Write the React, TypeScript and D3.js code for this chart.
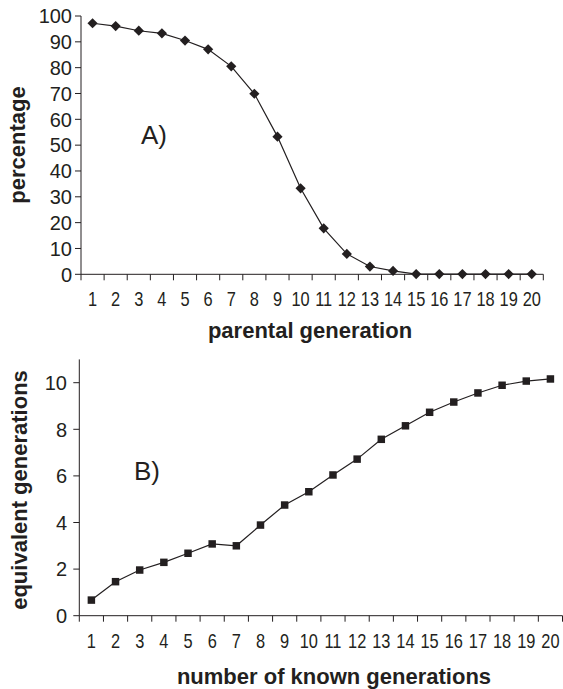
import React from "react";
import * as d3 from "d3";

const generationsA = d3.range(1, 21);
const percentageA = [97.2, 96.1, 94.3, 93.3, 90.5, 87.1, 80.5, 69.9, 53.3, 33.3, 17.8, 7.9, 3.0, 1.3, 0.1, 0.1, 0.1, 0.1, 0.1, 0.1];
const yTicksA = [0, 10, 20, 30, 40, 50, 60, 70, 80, 90, 100];

const generationsB = d3.range(1, 21);
const equivalentB = [0.67, 1.46, 1.96, 2.29, 2.68, 3.08, 3.0, 3.89, 4.75, 5.32, 6.04, 6.72, 7.57, 8.15, 8.73, 9.17, 9.56, 9.89, 10.07, 10.16];
const yTicksB = [0, 2, 4, 6, 8, 10];

const FONT = "'Liberation Sans', Arial, sans-serif";

type PanelProps = {
  cats: number[];
  vals: number[];
  yTicks: number[];
  yMax: number;
  x0: number; x1: number; yTop: number; yBottom: number;
  labelEnd: number;
  xLabelBaseline: number;
  marker: "diamond" | "square";
  panel: string; panelX: number; panelY: number;
  xTitle: string; xTitleX: number; xTitleY: number;
  yTitle: string; yTitleX: number; yTitleY: number;
};

function Panel(p: PanelProps) {
  const x = d3.scaleBand<number>().domain(p.cats).range([p.x0, p.x1]);
  const y = d3.scaleLinear().domain([0, p.yMax]).range([p.yBottom, p.yTop]);
  const cx = (c: number) => (x(c) as number) + x.bandwidth() / 2;
  const line = d3.line<number>().x((_, i) => cx(p.cats[i])).y((v) => y(v));
  const boundaries = p.cats.map((c) => x(c) as number).concat([p.x1]);
  const sym = d3.symbol().type(d3.symbolSquare).size(p.marker === "diamond" ? 52 : 56);
  return (
    <g fontFamily={FONT} fill="#231f20">
      <line x1={p.x0} x2={p.x0} y1={p.yTop} y2={p.yBottom} stroke="#231f20" strokeWidth={1} />
      {p.yTicks.map((t) => (
        <g key={t}>
          <line x1={p.x0 - 6} x2={p.x0} y1={y(t)} y2={y(t)} stroke="#231f20" />
          <text x={p.labelEnd} y={y(t)} dy="0.36em" textAnchor="end" fontSize={20}>{t}</text>
        </g>
      ))}
      <line x1={p.x0} x2={p.x1} y1={p.yBottom} y2={p.yBottom} stroke="#231f20" />
      {boundaries.map((b, i) => (
        <line key={i} x1={b} x2={b} y1={p.yBottom} y2={p.yBottom + 6} stroke="#231f20" />
      ))}
      {p.cats.map((c) => (
        <text key={c} transform={`translate(${cx(c)},${p.xLabelBaseline}) scale(0.82,1)`} textAnchor="middle" fontSize={20}>{c}</text>
      ))}
      <path d={line(p.vals) || ""} fill="none" stroke="#231f20" strokeWidth={1.2} />
      {p.vals.map((v, i) => (
        <path key={i} d={sym() || ""} transform={`translate(${cx(p.cats[i])},${y(v)})${p.marker === "diamond" ? " rotate(45)" : ""}`} fill="#231f20" />
      ))}
      <text x={p.panelX} y={p.panelY} fontSize={26} textAnchor="middle" dy="0.36em">{p.panel}</text>
      <text x={p.xTitleX} y={p.xTitleY} fontSize={22} fontWeight="bold" textAnchor="middle">{p.xTitle}</text>
      <text transform={`translate(${p.yTitleX},${p.yTitleY}) rotate(-90)`} fontSize={22} fontWeight="bold" textAnchor="middle" dy="0.36em">{p.yTitle}</text>
    </g>
  );
}

export default function App() {
  return (
    <svg width={563} height={689} style={{ position: "absolute", left: 0, top: 0, background: "#fff" }}>
      <rect width={563} height={689} fill="#fff" />
      <Panel
        cats={generationsA} vals={percentageA} yTicks={yTicksA} yMax={100}
        x0={81} x1={543.3} yTop={16} yBottom={274.3} labelEnd={72}
        xLabelBaseline={306} marker="diamond"
        panel="A)" panelX={154} panelY={135}
        xTitle="parental generation" xTitleX={310} xTitleY={338}
        yTitle="percentage" yTitleX={17} yTitleY={145}
      />
      <Panel
        cats={generationsB} vals={equivalentB} yTicks={yTicksB} yMax={11}
        x0={79.3} x1={562.5} yTop={359.4} yBottom={615.7} labelEnd={67}
        xLabelBaseline={648} marker="square"
        panel="B)" panelX={147} panelY={471}
        xTitle="number of known generations" xTitleX={334} xTitleY={684}
        yTitle="equivalent generations" yTitleX={19} yTitleY={490}
      />
    </svg>
  );
}
